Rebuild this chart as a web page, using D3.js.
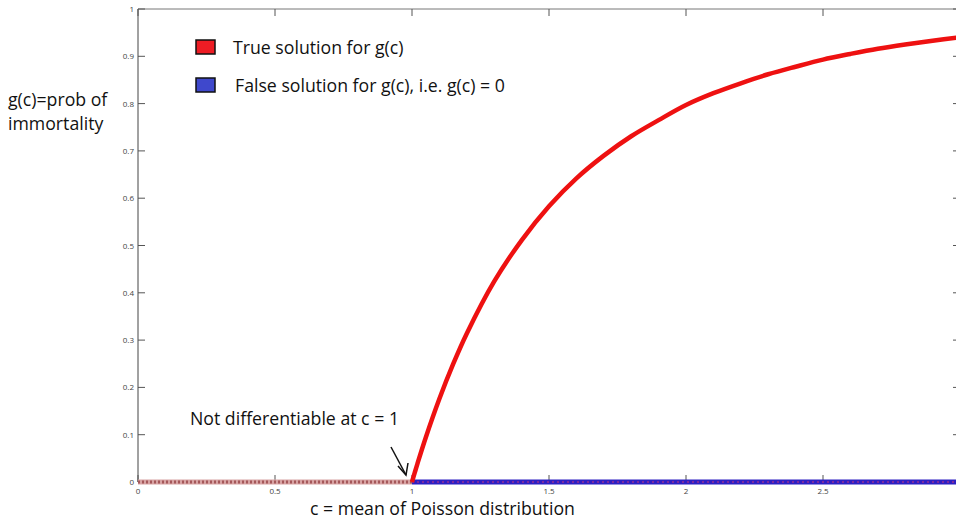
<!DOCTYPE html>
<html>
<head>
<meta charset="utf-8">
<script src="https://cdn.jsdelivr.net/npm/d3@7"></script>
<style>
  body { margin: 0; background: #fff; }
  svg { display: block; }
</style>
</head>
<body>
<div id="chart"></div>
<script>
// values: c and g(c) on the red curve
var trueC = [1, 1.01, 1.02, 1.05, 1.1, 1.15, 1.2, 1.3, 1.4, 1.5, 1.6, 1.7, 1.8, 1.9, 2, 2.1, 2.2, 2.3, 2.4, 2.5, 2.6, 2.7, 2.8, 2.9, 3];
var trueG = [0, 0.0197, 0.039, 0.0937, 0.176, 0.249, 0.314, 0.424, 0.511, 0.583, 0.642, 0.690, 0.731, 0.765, 0.797, 0.822, 0.843, 0.862, 0.878, 0.893, 0.905, 0.916, 0.925, 0.933, 0.9405];
// g(c) = 0 segments
var zeroLeftC = [0, 1];
var zeroRightC = [1, 3];
var xTicks = [0, 0.5, 1, 1.5, 2, 2.5, 3];
var yTicks = [0, 0.1, 0.2, 0.3, 0.4, 0.5, 0.6, 0.7, 0.8, 0.9, 1];
var legendLabels = ["True solution for g(c)", "False solution for g(c), i.e. g(c) = 0"];
var legendColors = ["#ed1c24", "#3f48cc"];

function init() {
  var w = 956, h = 521;
  var svg = d3.select("#chart").append("svg").attr("width", w).attr("height", h);

  var x = d3.scaleLinear().domain([0, 3]).range([138, 960]);
  var y = d3.scaleLinear().domain([0, 1]).range([482, 9]);

  var font = "'Open Sans', sans-serif";
  var fs = 17.7;

  // frame lines
  svg.append("line").attr("x1", x(0)).attr("x2", x(3)).attr("y1", y(1)).attr("y2", y(1))
    .attr("stroke", "#777").attr("stroke-width", 1);
  svg.append("line").attr("x1", x(0)).attr("x2", x(0)).attr("y1", y(1)).attr("y2", y(0))
    .attr("stroke", "#444").attr("stroke-width", 1);

  // ticks (inward, matlab style)
  var tl = 7;
  svg.selectAll(".yt").data(yTicks).enter().append("line")
    .attr("x1", x(0)).attr("x2", x(0) + tl)
    .attr("y1", d => y(d)).attr("y2", d => y(d))
    .attr("stroke", "#555");
  svg.selectAll(".ytr").data(yTicks).enter().append("line")
    .attr("x1", x(3)).attr("x2", x(3) - tl)
    .attr("y1", d => y(d)).attr("y2", d => y(d))
    .attr("stroke", "#555");
  svg.selectAll(".xt").data(xTicks).enter().append("line")
    .attr("x1", d => x(d)).attr("x2", d => x(d))
    .attr("y1", y(0)).attr("y2", y(0) - tl)
    .attr("stroke", "#555");
  svg.selectAll(".xtt").data(xTicks).enter().append("line")
    .attr("x1", d => x(d)).attr("x2", d => x(d))
    .attr("y1", y(1)).attr("y2", y(1) + tl)
    .attr("stroke", "#555");

  svg.selectAll(".yl").data(yTicks).enter().append("text")
    .attr("x", x(0) - 4).attr("y", d => y(d) + 3)
    .attr("text-anchor", "end")
    .attr("font-family", font).attr("font-size", 8).attr("fill", "#444")
    .text(d => d);
  // the 3 label falls outside the picture
  svg.selectAll(".xl").data(xTicks.filter(d => x(d) < w - 10)).enter().append("text")
    .attr("x", d => x(d)).attr("y", y(0) + 12)
    .attr("text-anchor", "middle")
    .attr("font-family", font).attr("font-size", 8).attr("fill", "#444")
    .text(d => d);

  var line = d3.line().x(d => x(d[0])).y(d => y(d[1]));

  // g = 0 for c < 1 (both solutions overlap)
  var left = zeroLeftC.map(c => [c, 0]);
  svg.append("path").attr("d", line(left)).attr("fill", "none")
    .attr("stroke", "#d7a3a3").attr("stroke-width", 5);
  svg.append("path").attr("d", line(left)).attr("fill", "none")
    .attr("stroke", "#a5585a").attr("stroke-width", 3).attr("stroke-dasharray", "2,2");

  // false solution g = 0 for c > 1
  var right = zeroRightC.map(c => [c, 0]);
  svg.append("path").attr("d", line(right)).attr("fill", "none")
    .attr("stroke", "#2d1fc2").attr("stroke-width", 5);
  svg.append("path").attr("d", line(right)).attr("fill", "none")
    .attr("stroke", "#7d2aa0").attr("stroke-width", 2).attr("stroke-dasharray", "2,3");

  // true solution curve
  var pts = trueC.map((c, i) => [c, trueG[i]]);
  svg.append("path").attr("d", d3.line().x(d => x(d[0])).y(d => y(d[1])).curve(d3.curveCatmullRom)(pts))
    .attr("fill", "none").attr("stroke", "#ee1111").attr("stroke-width", 4.5);

  // legend
  var lg = svg.selectAll(".lg").data(legendLabels).enter().append("g")
    .attr("transform", (d, i) => "translate(196," + (40 + i * 38) + ")");
  lg.append("rect").attr("width", 19).attr("height", 14)
    .attr("fill", (d, i) => legendColors[i]).attr("stroke", "#111").attr("stroke-width", 1.5);
  lg.append("text").attr("x", (d, i) => i === 0 ? 37 : 39).attr("y", 14)
    .attr("font-family", font).attr("font-size", fs).attr("fill", "#111")
    .text(d => d);

  // y label
  svg.append("text").attr("x", 8).attr("y", 106)
    .attr("font-family", font).attr("font-size", fs).attr("fill", "#111")
    .text("g(c)=prob of");
  svg.append("text").attr("x", 8).attr("y", 130)
    .attr("font-family", font).attr("font-size", fs).attr("fill", "#111")
    .text("immortality");

  // x label
  svg.append("text").attr("x", 310).attr("y", 515)
    .attr("font-family", font).attr("font-size", fs).attr("fill", "#111")
    .text("c = mean of Poisson distribution");

  // annotation
  svg.append("text").attr("x", 190).attr("y", 425)
    .attr("font-family", font).attr("font-size", fs).attr("fill", "#111")
    .text("Not differentiable at c = 1");
  svg.append("line").attr("x1", 391).attr("y1", 447).attr("x2", 406).attr("y2", 475)
    .attr("stroke", "#111").attr("stroke-width", 1.5);
  svg.append("path")
    .attr("d", "M398,466 L406,475 L408,463")
    .attr("fill", "none").attr("stroke", "#111").attr("stroke-width", 1.5);
}

window.onload = init;
</script>
</body>
</html>
